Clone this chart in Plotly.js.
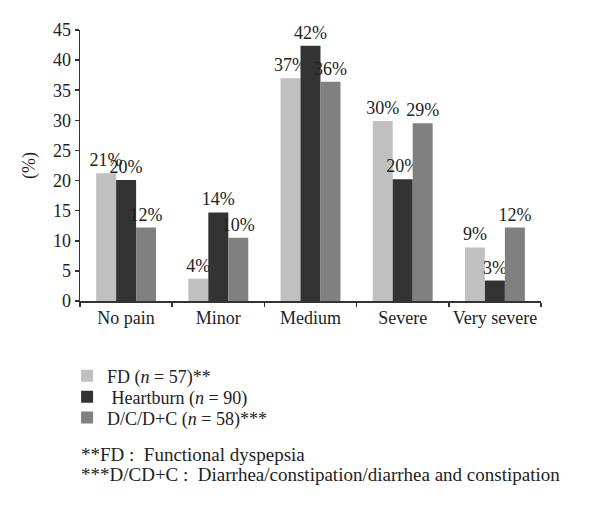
<!DOCTYPE html>
<html>
<head>
<meta charset="utf-8">
<script src="https://cdn.plot.ly/plotly-3.0.1.min.js"></script>
<style>html,body{margin:0;padding:0;background:#fff;}#chart{width:600px;height:522px;}</style>
</head>
<body>
<div id="chart"></div>
<script>
const categories = ['No pain', 'Minor', 'Medium', 'Severe', 'Very severe'];
const fdValues = [21.2, 3.7, 37.0, 29.9, 8.9];
const heartburnValues = [20.1, 14.7, 42.4, 20.2, 3.4];
const dcValues = [12.2, 10.5, 36.4, 29.5, 12.2];
const fdLabels = ['21%', '4%', '37%', '30%', '9%'];
const heartburnLabels = ['20%', '14%', '42%', '20%', '3%'];
const dcLabels = ['12%', '10%', '36%', '29%', '12%'];
const seriesNames = ['FD (<i>n</i> = 57)**', ' Heartburn (<i>n</i> = 90)', 'D/C/D+C (<i>n</i> = 58)***'];
const footnotes = ['**FD :  Functional dyspepsia', '***D/CD+C :  Diarrhea/constipation/diarrhea and constipation'];
const yTicks = [0, 5, 10, 15, 20, 25, 30, 35, 40, 45];

const FONT = 'Liberation Serif, Times New Roman, serif';
const colors = ['#c0c0c0', '#333333', '#808080'];
const vals = [fdValues, heartburnValues, dcValues];
const labs = [fdLabels, heartburnLabels, dcLabels];
const legendIds = ['legend', 'legend2', 'legend3'];
const legendY = [-0.277, -0.354, -0.431];

const traces = vals.map((v, i) => ({
  type: 'bar',
  x: categories,
  y: v,
  name: seriesNames[i],
  legend: legendIds[i],
  text: labs[i],
  textposition: 'outside',
  constraintext: 'none',
  cliponaxis: false,
  textfont: {family: FONT, size: 18, color: '#222'},
  marker: {color: colors[i], line: {color: colors[i], width: 0}},
  hoverinfo: 'none'
}));

const layout = {
  width: 600, height: 522,
  margin: {l: 80, r: 59, t: 30, b: 221},
  paper_bgcolor: '#fff', plot_bgcolor: '#fff',
  barmode: 'group', bargap: 0.35, bargroupgap: 0,
  font: {family: FONT, size: 18, color: '#222'},
  showlegend: true,
  xaxis: {
    type: 'category', tickangle: 0,
    showline: true, linecolor: '#333', linewidth: 1.5,
    ticks: 'outside', tickson: 'boundaries', ticklen: 4, tickcolor: '#333', tickwidth: 1.5,
    tickfont: {family: FONT, size: 18, color: '#222'},
    showgrid: false, zeroline: false, fixedrange: true
  },
  yaxis: {
    range: [0, 45], tickvals: yTicks,
    showline: true, linecolor: '#333', linewidth: 1.5,
    ticks: 'outside', ticklen: 4, tickcolor: '#333', tickwidth: 1.5,
    tickfont: {family: FONT, size: 18, color: '#222'},
    showgrid: false, zeroline: false, fixedrange: true,
    title: {text: '(%)', font: {family: FONT, size: 18, color: '#222'}, standoff: 12}
  },
  annotations: footnotes.map((t, i) => ({
    text: t, xref: 'paper', yref: 'paper', x: -0.003, xanchor: 'left',
    y: -0.568 - i * 0.072, yanchor: 'middle', showarrow: false,
    font: {family: FONT, size: 19, color: '#222'}
  }))
};
legendIds.forEach((id, i) => {
  layout[id] = {
    x: -0.028, y: legendY[i], xanchor: 'left', yanchor: 'middle',
    font: {family: FONT, size: 18, color: '#222'},
    itemwidth: 30, bgcolor: 'rgba(0,0,0,0)'
  };
});

Plotly.newPlot('chart', traces, layout, {displayModeBar: false, staticPlot: true});
</script>
</body>
</html>
